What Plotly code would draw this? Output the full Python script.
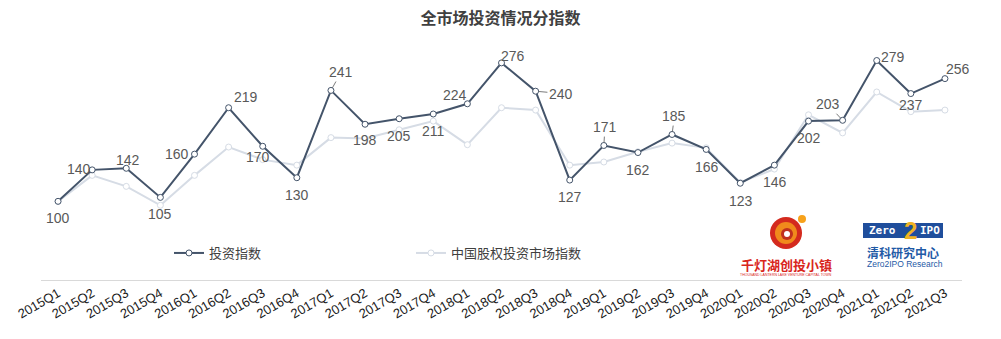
import plotly.graph_objects as go

quarters = ["2015Q1","2015Q2","2015Q3","2015Q4","2016Q1","2016Q2","2016Q3","2016Q4",
            "2017Q1","2017Q2","2017Q3","2017Q4","2018Q1","2018Q2","2018Q3","2018Q4",
            "2019Q1","2019Q2","2019Q3","2019Q4","2020Q1","2020Q2","2020Q3","2020Q4",
            "2021Q1","2021Q2","2021Q3"]
invest_index = [100,140,142,105,160,219,170,130,241,198,205,211,224,276,240,127,
                171,162,185,166,123,146,202,203,279,237,256]
market_index = [100,133,119,95,133,169,153,146,181,180,191,202,172,219,216,146,
                150,163,174,168,124,141,210,187,239,214,216]

series_names = ["投资指数", "中国股权投资市场指数"]
title_text = "全市场投资情况分指数"

# label offsets in px (dx right, dy down) and whether a leader line is drawn
label_offsets = [(0,17),(-13,-1),(2,-8),(0,17),(-18,0),(17,-11),(-5,11),(0,17),
                 (9,-16),(0,16),(0,17),(0,17),(-12,-9),(11,-7),(22,2),(0,17),
                 (1,-16),(0,17),(2,-16),(1,18),(1,18),(1,17),(0,17),(-13,-14),
                 (16,-4),(0,11),(13,-10)]
leader = {8, 14, 16, 18, 23}

DARK = "#44546a"
LIGHT = "#d6dce5"
LABEL = "#595959"
FONT = "Liberation Sans, Noto Sans CJK SC, sans-serif"

L, T, PW, PH = 41, 44, 921, 236


def px(x):
    return (x - L) / PW


def py(y):
    return (T + PH - y) / PH


fig = go.Figure()
fig.add_trace(go.Scatter(
    x=quarters, y=market_index, name=series_names[1], mode="lines+markers",
    line=dict(color=LIGHT, width=2),
    marker=dict(symbol="circle", size=6, color="white", line=dict(color=LIGHT, width=1)),
    legend="legend2"))
fig.add_trace(go.Scatter(
    x=quarters, y=invest_index, name=series_names[0], mode="lines+markers",
    line=dict(color=DARK, width=2),
    marker=dict(symbol="circle", size=6, color="white", line=dict(color=DARK, width=1)),
    legend="legend"))

for i, (q, v) in enumerate(zip(quarters, invest_index)):
    dx, dy = label_offsets[i]
    if i in leader:
        fig.add_annotation(x=q, y=v, text=str(v), showarrow=True, arrowhead=0,
                           arrowwidth=0.8, arrowcolor=LABEL, ax=dx*1.15, ay=dy*1.15,
                           standoff=3, font=dict(size=14, color=LABEL, family=FONT))
    else:
        fig.add_annotation(x=q, y=v, text=str(v), showarrow=False,
                           xshift=dx, yshift=-dy,
                           font=dict(size=14, color=LABEL, family=FONT))


def note(x, y, text, size, color, family=FONT):
    fig.add_annotation(xref="paper", yref="paper", x=px(x), y=py(y), text=text,
                       showarrow=False, xanchor="center", yanchor="middle",
                       font=dict(size=size, color=color, family=family))


def circ(x0, y0, x1, y1, color):
    fig.add_shape(type="circle", xref="paper", yref="paper", layer="above",
                  x0=px(x0), x1=px(x1), y0=py(y1), y1=py(y0),
                  fillcolor=color, line=dict(width=0))


# logo 1: 千灯湖创投小镇 (approximation)
circ(770, 217, 802, 249, "#d42a1e")
circ(775, 222, 797, 244, "#f08a1c")
circ(781, 228, 793, 240, "#c0301e")
circ(784, 231, 790, 237, "white")
circ(798, 215, 806, 223, "#f7a21b")
note(786, 264, "<b>千灯湖创投小镇</b>", 13, "#d9261c", "Noto Sans CJK SC")
note(786, 275, "THOUSAND LANTERN LAKE VENTURE CAPITAL TOWN", 3.5, "#d9261c")

# logo 2: Zero2IPO (approximation)
fig.add_shape(type="rect", xref="paper", yref="paper", layer="above",
              x0=px(863), x1=px(943), y0=py(238), y1=py(223),
              fillcolor="#1f4e9c", line=dict(width=0))
note(882, 230.5, "<b>Zero</b>", 11, "white", "DejaVu Sans Mono")
note(930, 230.5, "<b>IPO</b>", 11, "white", "DejaVu Sans Mono")
note(910, 230, "<b>2</b>", 24, "#f0b323")
note(903, 252, "<b>清科研究中心</b>", 12, "#1f5aa6", "Noto Sans CJK SC")
note(905, 264, "Zero2IPO Research", 8.5, "#1f5aa6")

fig.update_layout(
    width=1001, height=339,
    margin=dict(l=L, r=1001 - L - PW, t=T, b=339 - T - PH, autoexpand=False),
    paper_bgcolor="white", plot_bgcolor="white",
    title=dict(text="<b>" + title_text + "</b>", x=0.5, xanchor="center",
               y=1 - 18/339, yanchor="middle",
               font=dict(size=16, color="#404040", family="Noto Sans CJK SC")),
    font=dict(family=FONT, color="#404040"),
    showlegend=True,
    legend=dict(x=px(169), y=py(253), xanchor="left", yanchor="middle",
                orientation="h", bgcolor="rgba(0,0,0,0)", itemwidth=30,
                font=dict(size=13, color="#404040", family="Noto Sans CJK SC")),
    legend2=dict(x=px(411), y=py(253), xanchor="left", yanchor="middle",
                 orientation="h", bgcolor="rgba(0,0,0,0)", itemwidth=30,
                 font=dict(size=13, color="#404040", family="Noto Sans CJK SC")),
    xaxis=dict(type="category", range=[-0.5, len(quarters)-0.5], showgrid=False,
               zeroline=False, showline=True, linecolor="#d9d9d9", linewidth=1,
               ticks="", tickangle=-30, automargin=False,
               tickfont=dict(size=13, color="#1a1a1a", family=FONT)),
    yaxis=dict(range=[0, 300], visible=False, showgrid=False, zeroline=False),
)

fig.write_html("out.html")
